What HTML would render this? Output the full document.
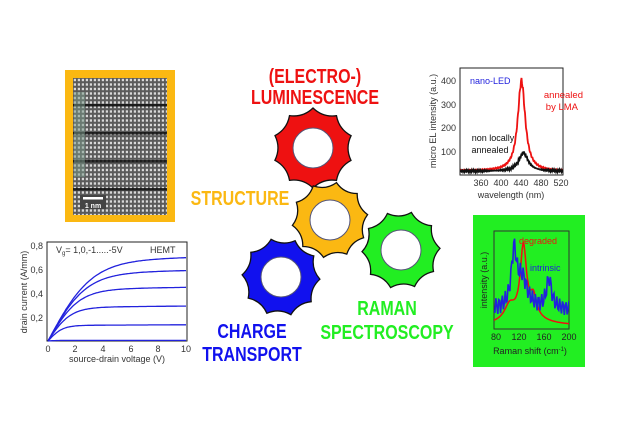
<!DOCTYPE html>
<html><head><meta charset="utf-8"><style>
html,body{margin:0;padding:0;background:#fff;}
svg{display:block;font-family:"Liberation Sans",Arial,sans-serif;}
.big{font-weight:bold;font-size:20px;}
</style></head><body>
<svg id="s" width="620" height="434" viewBox="0 0 620 434" xmlns="http://www.w3.org/2000/svg">
<defs>
<pattern id="lat" x="73" y="78" width="4" height="4.5" patternUnits="userSpaceOnUse">
<rect width="4" height="4.5" fill="#5a5a5a"/>
<rect x="0.8" y="0.8" width="2.2" height="2.4" fill="#d8d8d8"/>
</pattern>
<clipPath id="elc"><rect x="460" y="68" width="103" height="107"/></clipPath>
<clipPath id="rc"><rect x="494" y="231" width="75" height="98"/></clipPath>
</defs>
<!-- STEM -->
<rect x="65" y="70" width="110" height="152" fill="#fbb812"/>
<rect x="73" y="78" width="94" height="137" fill="url(#lat)"/>
<g fill="#111" opacity="0.85">
<rect x="73" y="104" width="94" height="2.5"/><rect x="73" y="132" width="94" height="2.5"/>
<rect x="73" y="160" width="94" height="2.5"/><rect x="73" y="188" width="94" height="2.5"/>
</g>
<rect x="74" y="92" width="11" height="85" fill="#7a9a8a" opacity="0.5"/>
<rect x="80" y="195" width="26" height="14" fill="#444"/>
<rect x="83" y="197" width="20" height="2.5" fill="#fff"/>
<text x="93" y="208" font-size="7" font-weight="bold" fill="#fff" text-anchor="middle">1 nm</text>

<g id="gears"></g>
<!-- titles -->
<g class="big" text-anchor="middle">
<text fill="#ee1111" transform="translate(315 83) scale(0.8 1)">(ELECTRO-)</text>
<text fill="#ee1111" transform="translate(315 104) scale(0.8 1)">LUMINESCENCE</text>
<text fill="#fbb812" transform="translate(240 205) scale(0.8 1)">STRUCTURE</text>
<text fill="#22ee22" transform="translate(387 315) scale(0.8 1)">RAMAN</text>
<text fill="#22ee22" transform="translate(387 339) scale(0.8 1)">SPECTROSCOPY</text>
<text fill="#1111ee" transform="translate(252 338) scale(0.8 1)">CHARGE</text>
<text fill="#1111ee" transform="translate(252 361) scale(0.8 1)">TRANSPORT</text>
</g>

<!-- HEMT chart -->
<g font-size="9" fill="#333">
<rect x="47" y="242" width="140" height="99" fill="none" stroke="#222" stroke-width="1"/>
<text x="43" y="249" text-anchor="end">0,8</text>
<text x="43" y="273" text-anchor="end">0,6</text>
<text x="43" y="297" text-anchor="end">0,4</text>
<text x="43" y="321" text-anchor="end">0,2</text>
<text x="48" y="352" text-anchor="middle">0</text><text x="75" y="352" text-anchor="middle">2</text>
<text x="103" y="352" text-anchor="middle">4</text><text x="131" y="352" text-anchor="middle">6</text>
<text x="158" y="352" text-anchor="middle">8</text><text x="186" y="352" text-anchor="middle">10</text>
<text x="117" y="362" text-anchor="middle">source-drain voltage (V)</text>
<text transform="translate(27 292) rotate(-90)" text-anchor="middle">drain current (A/mm)</text>
<text x="56" y="253">V<tspan font-size="6" dy="2">g</tspan><tspan dy="-2">= 1,0,-1.....-5V</tspan></text>
<text x="150" y="253">HEMT</text>
</g>
<g id="hemt" fill="none" stroke="#2222dd" stroke-width="1.3"></g>

<!-- EL chart -->
<g font-size="9" fill="#333">
<rect x="460" y="68" width="103" height="107" fill="none" stroke="#222"/>
<text x="456" y="84" text-anchor="end">400</text>
<text x="456" y="108" text-anchor="end">300</text>
<text x="456" y="131" text-anchor="end">200</text>
<text x="456" y="155" text-anchor="end">100</text>
<text x="481" y="186" text-anchor="middle">360</text><text x="501" y="186" text-anchor="middle">400</text>
<text x="521" y="186" text-anchor="middle">440</text><text x="541" y="186" text-anchor="middle">480</text>
<text x="561" y="186" text-anchor="middle">520</text>
<text x="511" y="198" text-anchor="middle">wavelength (nm)</text>
<text transform="translate(436 121) rotate(-90)" text-anchor="middle">micro EL intensity (a.u.)</text>
<text x="470" y="84" fill="#2222dd">nano-LED</text>
<text x="583" y="98" fill="#ee1111" text-anchor="end" font-size="9.5">annealed</text>
<text x="578" y="110" fill="#ee1111" text-anchor="end" font-size="9.5">by LMA</text>
<text x="493" y="141" text-anchor="middle" fill="#111">non locally</text>
<text x="490" y="153" text-anchor="middle" fill="#111">annealed</text>
</g>
<g id="el" fill="none" clip-path="url(#elc)"></g>

<!-- Raman -->
<rect x="473" y="215" width="112" height="152" fill="#22ee22"/>
<rect x="494" y="231" width="75" height="98" fill="none" stroke="#333" stroke-width="1"/>
<g id="ram" fill="none" clip-path="url(#rc)"></g>
<g font-size="9" fill="#222">
<text x="496" y="340" text-anchor="middle">80</text><text x="519" y="340" text-anchor="middle">120</text>
<text x="544" y="340" text-anchor="middle">160</text>
<text x="569" y="340" text-anchor="middle">200</text>
<text x="530" y="354" text-anchor="middle">Raman shift (cm<tspan font-size="6" dy="-3">-1</tspan><tspan dy="3">)</tspan></text>
<text transform="translate(487 280) rotate(-90)" text-anchor="middle">intensity (a.u.)</text>
<text x="519" y="244" fill="#ee1111">degraded</text>
<text x="530" y="271" fill="#2222dd">intrinsic</text>
</g>
</svg>
<script>
var NS="http://www.w3.org/2000/svg";
function el(p,t,a){var e=document.createElementNS(NS,t);for(var k in a)e.setAttribute(k,a[k]);p.appendChild(e);return e;}
var G=document.getElementById("gears");
function gear(cx,cy,ro,ri,rh,col,rot){
 var n=10,d="";
 for(var i=0;i<n;i++){
  var a=(i/n)*2*Math.PI+rot, b=a+Math.PI/n, c=a+2*Math.PI/n;
  var p=[cx+ro*Math.cos(a),cy+ro*Math.sin(a)];
  d+=(i==0?"M":"L")+p[0].toFixed(1)+" "+p[1].toFixed(1);
  var m=[cx+ri*Math.cos(b),cy+ri*Math.sin(b)];
  var q=[cx+ro*Math.cos(c),cy+ro*Math.sin(c)];
  d+="Q"+m[0].toFixed(1)+" "+m[1].toFixed(1)+" "+q[0].toFixed(1)+" "+q[1].toFixed(1);
 }
 d+="Z";
 el(G,"path",{d:d,fill:col,stroke:"#111","stroke-width":1.3});
 el(G,"circle",{cx:cx,cy:cy,r:rh,fill:"#fff",stroke:"#557","stroke-width":1});
}
gear(313,148,40,32,20,"#ee1111",-1.57);
gear(401,250,39,31,20,"#22ee22",-1.3);
gear(281,277,39,31,20,"#1111ee",-1.2);
gear(330,220,38,30,20,"#fbb812",-1.4);
// HEMT
var H=document.getElementById("hemt");
var sats=[0.67,0.565,0.43,0.28,0.13,0.005];
sats.forEach(function(s,j){
 var d="";
 for(var i=0;i<=100;i++){var v=i/10;var vs=0.9+s*6.5;
  var I=s*Math.tanh(v/(vs*0.6))*(1+0.004*v);
  var x=48+v*13.8,y=341-I*120;d+=(i?"L":"M")+x.toFixed(1)+" "+y.toFixed(1);}
 el(H,"path",{d:d});
});
// EL
var E=document.getElementById("el");
function elx(l){return 481+(l-360)*0.5;} function ely(v){return 176-v*0.237;}
function spec(A,c,w,col,seed){
 var d="";for(var l=318;l<=570;l+=1){var v=20+A/(1+Math.pow((l-c)/w,2));v+= (Math.sin(l*seed)*0.5+Math.sin(l*seed*3.7)*0.5)*(3+v*0.06);
 d+=(l>318?"L":"M")+elx(l).toFixed(1)+" "+ely(Math.max(v,8)).toFixed(1);}
 el(E,"path",{d:d,stroke:col,"stroke-width":1.8});
}
spec(380,441,9,"#ee1111",1.7);
spec(78,445,11,"#111",2.3);
// Raman
var R=document.getElementById("ram");
function rx(k){return 494+(k-80)*75/120;} function ry(v){return 329-v*98;}
var d="";for(var k=80;k<=200;k+=1){var v=0.03+0.72/(1+Math.pow((k-127)/6,2))+0.2/(1+Math.pow((k-143)/6,2))+0.15/(1+Math.pow((k-105)/10,2))+0.08/(1+Math.pow((k-130)/35,2));d+=(k>80?"L":"M")+rx(k).toFixed(1)+" "+ry(v).toFixed(1);}
el(R,"path",{d:d,stroke:"#ee1111","stroke-width":1.5});
d="";for(var k=80;k<=200;k+=1.5){var v=0.2+0.55/(1+Math.pow((k-112)/5,2))+0.3/(1+Math.pow((k-125)/10,2))+0.3/(1+Math.pow((k-168)/5,2))+0.05*Math.sin(k*1.3)+0.04*Math.sin(k*2.9);d+=(k>80?"L":"M")+rx(k).toFixed(1)+" "+ry(Math.max(0.05,v)).toFixed(1);}
el(R,"path",{d:d,stroke:"#2222dd","stroke-width":1.6});
</script>
</body></html>
